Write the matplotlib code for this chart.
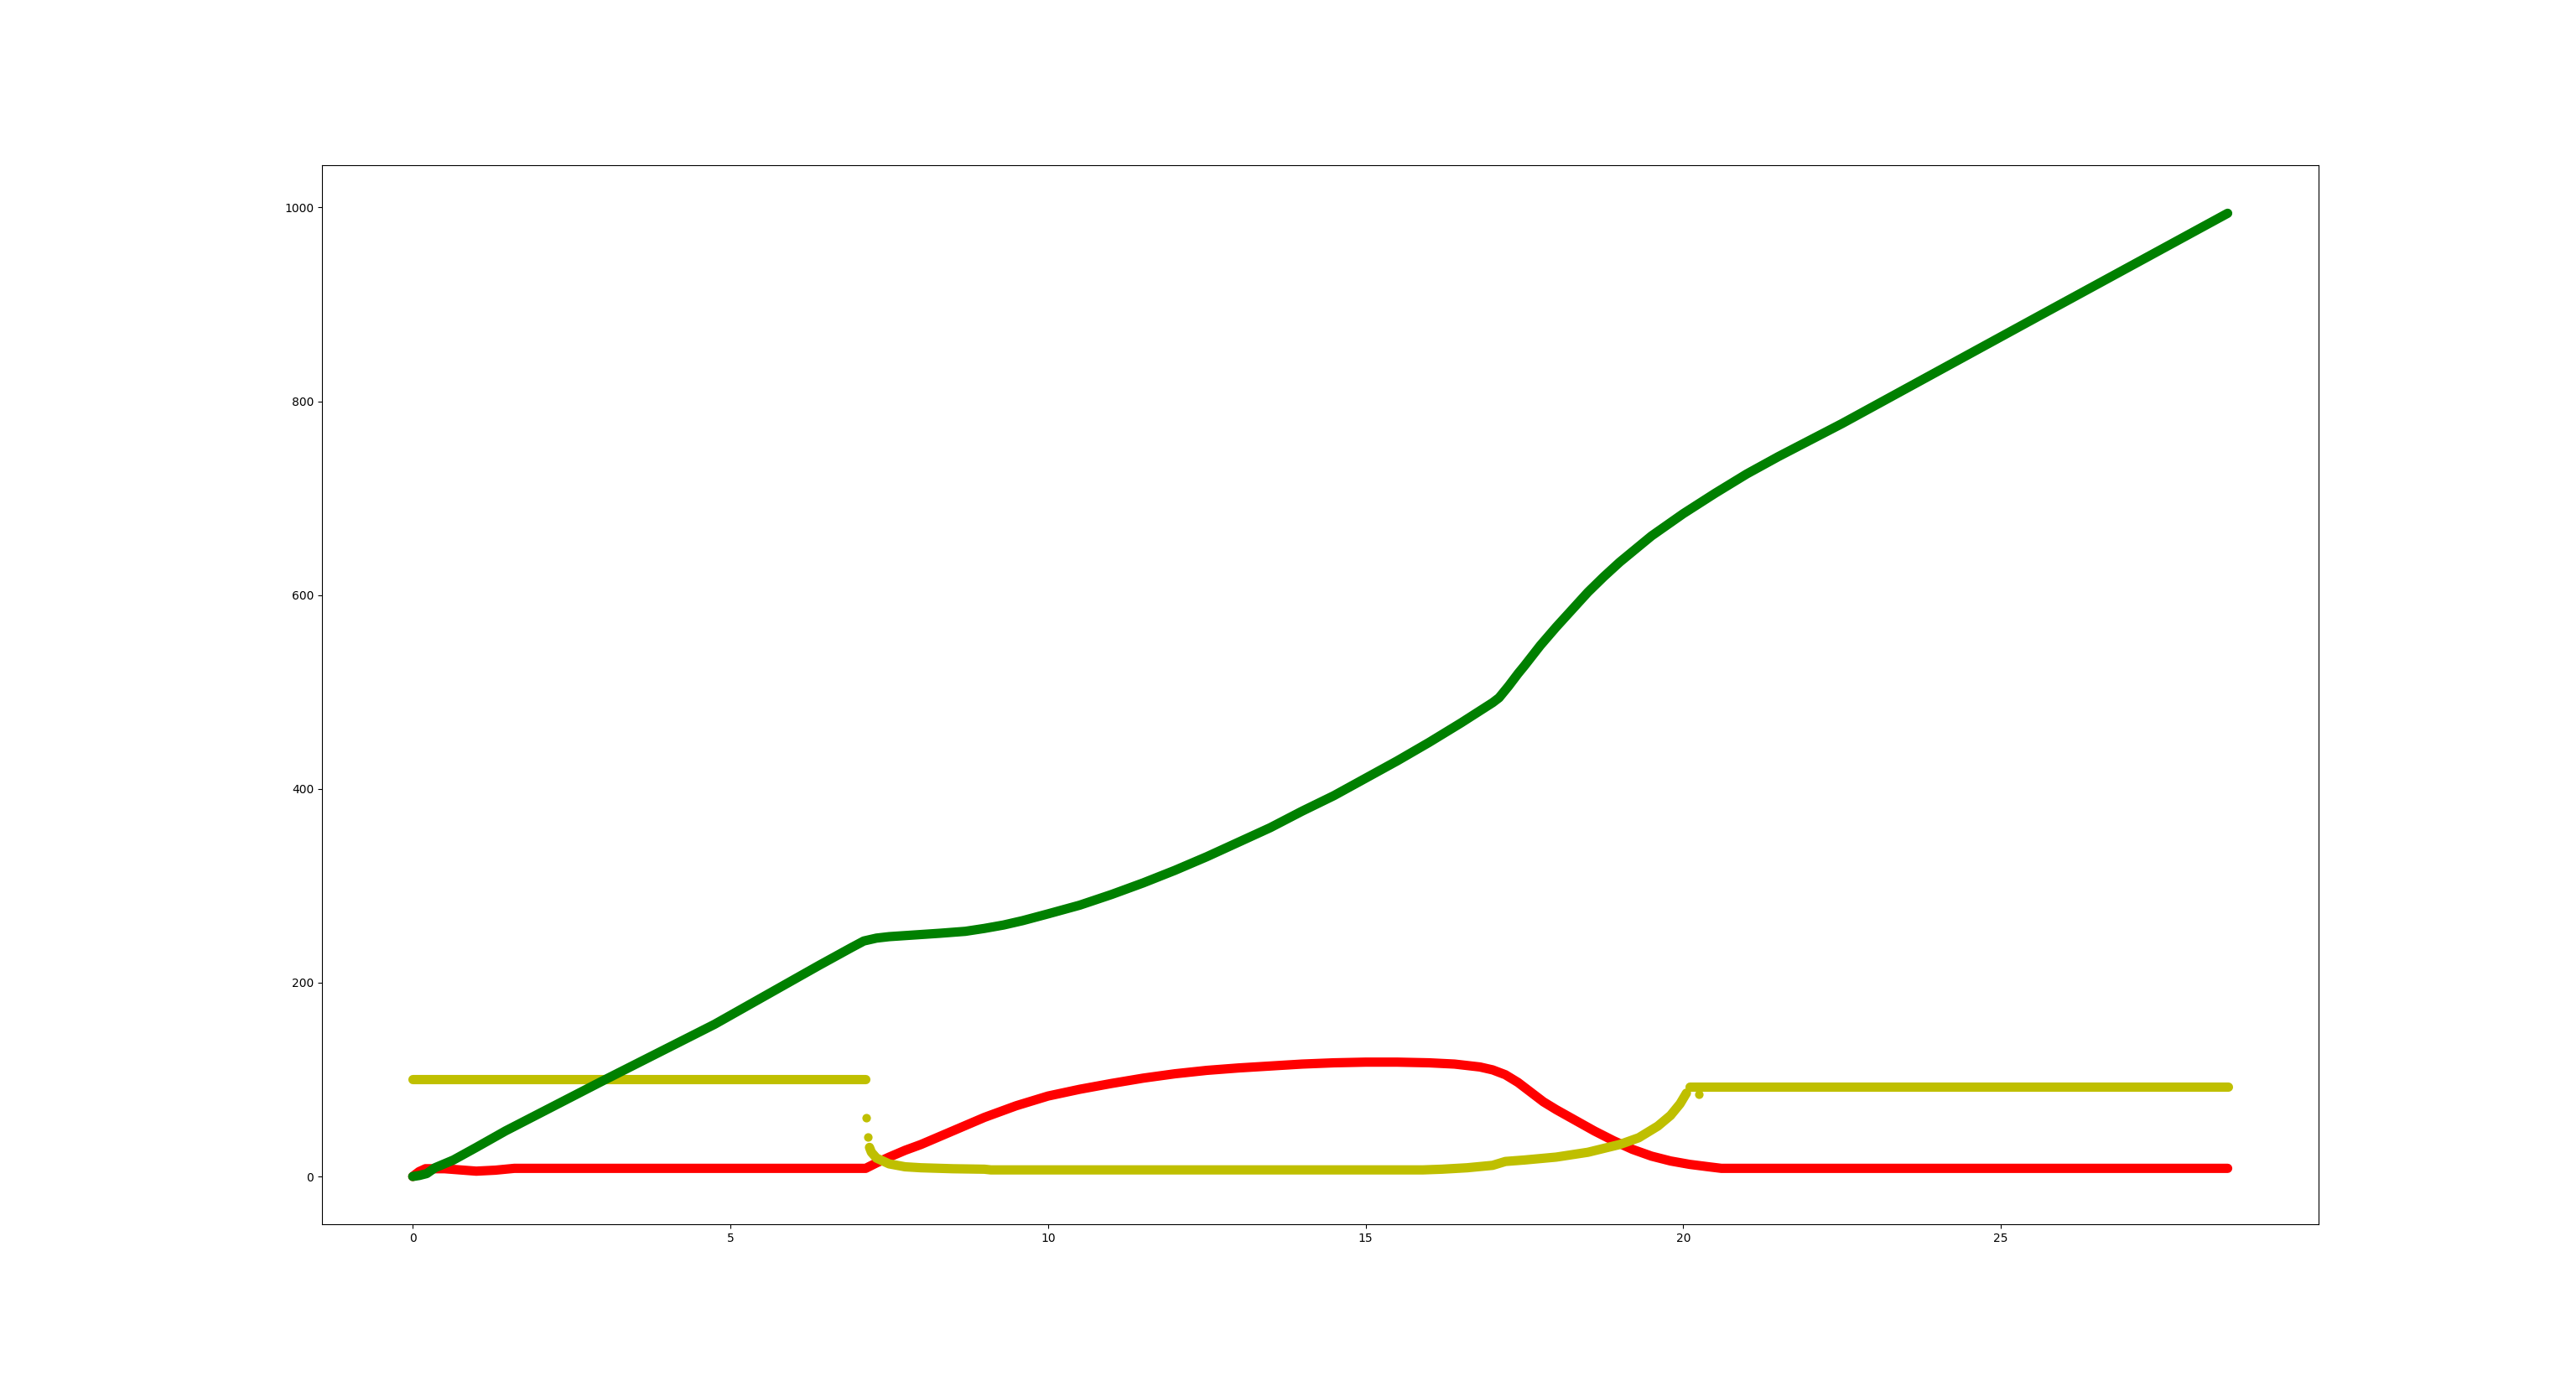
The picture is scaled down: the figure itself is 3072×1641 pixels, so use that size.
# %%
import numpy as np
import matplotlib
matplotlib.use("Agg")
import matplotlib.pyplot as plt

# %%
# Values (time on x, three tracked quantities on y)
green_x = [0, 0.1, 0.22, 0.35, 0.64, 1.0, 1.46, 3.0, 4.75, 6.4, 6.9, 7.1, 7.3, 7.5,
           8.3, 8.7, 9.0, 9.3, 9.6, 10.0, 10.5, 11.0, 11.5, 12.0, 12.5, 13.0, 13.5,
           14.0, 14.5, 15.0, 15.5, 16.0, 16.5, 17.0, 17.1, 17.25, 17.4, 17.5,
           17.75, 18.0, 18.25, 18.5, 18.75, 19.0, 19.5, 20.0, 20.5, 21.0, 21.5,
           22.0, 22.5, 25.6, 28.57]
green_y = [0, 1, 3, 9, 17, 30, 47, 99, 157, 218, 236, 243, 246, 247.5,
           251, 253, 256, 259.5, 264, 271, 280, 291, 303, 316, 330, 345, 360,
           377, 393, 411, 429, 448, 468, 489, 494, 506, 519, 527,
           548, 567, 585, 603, 619, 634, 661, 684, 705, 725, 743,
           760, 777, 888, 994]

red_x = [0, 0.1, 0.2, 0.5, 0.8, 1.0, 1.3, 1.6, 7.13, 7.3, 7.5, 7.75, 8.0, 8.25,
         8.5, 8.75, 9.0, 9.25, 9.5, 9.75, 10.0, 10.5, 11.0, 11.5, 12.0, 12.5,
         13.0, 13.5, 14.0, 14.5, 15.0, 15.5, 16.0, 16.4, 16.8, 17.0, 17.2,
         17.4, 17.6, 17.8, 18.0, 18.3, 18.6, 18.9, 19.2, 19.5, 19.8, 20.1,
         20.4, 20.6, 28.57]
red_y = [0, 5, 8, 8, 6.5, 5.5, 6.5, 8.4, 8.4, 14, 20, 27, 33, 40,
         47, 54, 61, 67, 73, 78, 83, 90, 96, 101.5, 106, 109.5,
         112, 114, 116, 117.3, 118, 118, 117.3, 116, 113, 110, 105,
         97, 87, 77, 69, 58, 47, 37, 28, 21, 16, 12.5,
         10, 8.4, 8.4]

# yellow has jumps, so it is kept as three runs plus a few loose samples
yellow_a_x = [0, 7.13]
yellow_a_y = [100, 100]
yellow_b_x = [7.19, 7.22, 7.3, 7.5, 7.75, 8.0, 8.5, 9.0, 9.1, 15.9, 16.2, 16.6,
              17.0, 17.2, 17.5, 18.0, 18.5, 19.0, 19.3, 19.6, 19.8, 19.95, 20.05]
yellow_b_y = [30, 25, 19, 13, 10, 9, 8, 7.5, 6.8, 6.8, 7.5, 9,
              11.5, 15.5, 17, 20, 25, 33, 40, 52, 63, 75, 86]
yellow_c_x = [20.1, 28.57]
yellow_c_y = [92.7, 92.7]
yellow_dots_x = [7.14, 7.17, 20.24]
yellow_dots_y = [61, 41, 84.6]

# %%
fig, ax = plt.subplots(figsize=(30.72, 16.41), dpi=100)

# dense samples in the original render as a thick band of round markers
style = dict(lw=8, solid_capstyle="round", solid_joinstyle="round")

ax.plot(red_x, red_y, color="r", zorder=2, **style)
ax.plot(yellow_a_x, yellow_a_y, color="y", zorder=3, **style)
ax.plot(yellow_b_x, yellow_b_y, color="y", zorder=3, **style)
ax.plot(yellow_c_x, yellow_c_y, color="y", zorder=3, **style)
ax.scatter(yellow_dots_x, yellow_dots_y, color="y", s=40, zorder=3)
ax.plot(green_x, green_y, color="g", zorder=4, **style)

fig.savefig("out.png", dpi=100)
